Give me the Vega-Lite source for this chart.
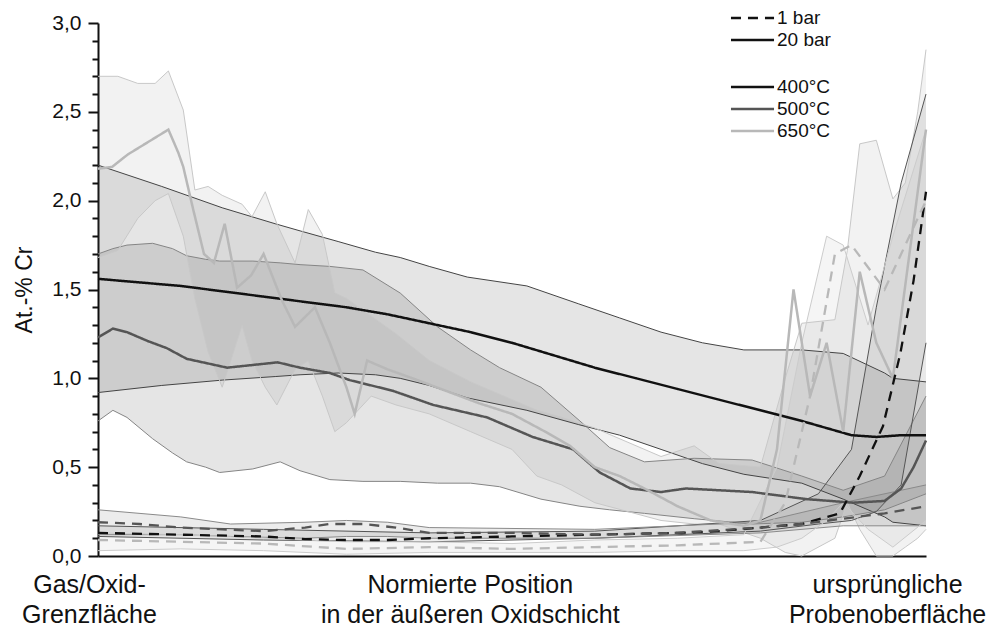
{
"$schema":"https://vega.github.io/schema/vega-lite/v6.json",
"width":828,"height":533,
"autosize":{"type":"none"},
"padding":{"left":98,"top":23,"right":69,"bottom":74},
"background":"white",
"config":{"view":{"stroke":null},"font":"Liberation Sans",
"legend":{"labelFont":"Liberation Sans","labelFontSize":19,"labelColor":"#111","symbolType":"M-2.05,0H2.05","symbolSize":441,"symbolStrokeWidth":2.5,"symbolFillColor":"transparent","labelOffset":12.5,"rowPadding":0,"title":null}},
"datasets":{
"means":[
{"s":"400°C 20 bar","T":"400°C","p":"20 bar","x":0,"y":1.56},{"s":"400°C 20 bar","T":"400°C","p":"20 bar","x":0.05,"y":1.54},{"s":"400°C 20 bar","T":"400°C","p":"20 bar","x":0.1,"y":1.52},{"s":"400°C 20 bar","T":"400°C","p":"20 bar","x":0.15,"y":1.49},{"s":"400°C 20 bar","T":"400°C","p":"20 bar","x":0.2,"y":1.46},{"s":"400°C 20 bar","T":"400°C","p":"20 bar","x":0.25,"y":1.43},{"s":"400°C 20 bar","T":"400°C","p":"20 bar","x":0.3,"y":1.4},{"s":"400°C 20 bar","T":"400°C","p":"20 bar","x":0.35,"y":1.36},{"s":"400°C 20 bar","T":"400°C","p":"20 bar","x":0.4,"y":1.31},{"s":"400°C 20 bar","T":"400°C","p":"20 bar","x":0.45,"y":1.26},{"s":"400°C 20 bar","T":"400°C","p":"20 bar","x":0.5,"y":1.2},{"s":"400°C 20 bar","T":"400°C","p":"20 bar","x":0.55,"y":1.13},{"s":"400°C 20 bar","T":"400°C","p":"20 bar","x":0.6,"y":1.06},{"s":"400°C 20 bar","T":"400°C","p":"20 bar","x":0.65,"y":1.0},{"s":"400°C 20 bar","T":"400°C","p":"20 bar","x":0.7,"y":0.94},{"s":"400°C 20 bar","T":"400°C","p":"20 bar","x":0.75,"y":0.88},{"s":"400°C 20 bar","T":"400°C","p":"20 bar","x":0.8,"y":0.82},{"s":"400°C 20 bar","T":"400°C","p":"20 bar","x":0.85,"y":0.76},{"s":"400°C 20 bar","T":"400°C","p":"20 bar","x":0.88,"y":0.72},{"s":"400°C 20 bar","T":"400°C","p":"20 bar","x":0.91,"y":0.68},{"s":"400°C 20 bar","T":"400°C","p":"20 bar","x":0.94,"y":0.67},{"s":"400°C 20 bar","T":"400°C","p":"20 bar","x":0.97,"y":0.68},{"s":"400°C 20 bar","T":"400°C","p":"20 bar","x":1.0,"y":0.68},
{"s":"500°C 20 bar","T":"500°C","p":"20 bar","x":0,"y":1.23},{"s":"500°C 20 bar","T":"500°C","p":"20 bar","x":0.018,"y":1.28},{"s":"500°C 20 bar","T":"500°C","p":"20 bar","x":0.035,"y":1.26},{"s":"500°C 20 bar","T":"500°C","p":"20 bar","x":0.06,"y":1.21},{"s":"500°C 20 bar","T":"500°C","p":"20 bar","x":0.083,"y":1.17},{"s":"500°C 20 bar","T":"500°C","p":"20 bar","x":0.107,"y":1.11},{"s":"500°C 20 bar","T":"500°C","p":"20 bar","x":0.156,"y":1.06},{"s":"500°C 20 bar","T":"500°C","p":"20 bar","x":0.217,"y":1.09},{"s":"500°C 20 bar","T":"500°C","p":"20 bar","x":0.244,"y":1.06},{"s":"500°C 20 bar","T":"500°C","p":"20 bar","x":0.28,"y":1.03},{"s":"500°C 20 bar","T":"500°C","p":"20 bar","x":0.304,"y":0.99},{"s":"500°C 20 bar","T":"500°C","p":"20 bar","x":0.356,"y":0.93},{"s":"500°C 20 bar","T":"500°C","p":"20 bar","x":0.405,"y":0.85},{"s":"500°C 20 bar","T":"500°C","p":"20 bar","x":0.47,"y":0.78},{"s":"500°C 20 bar","T":"500°C","p":"20 bar","x":0.525,"y":0.67},{"s":"500°C 20 bar","T":"500°C","p":"20 bar","x":0.574,"y":0.6},{"s":"500°C 20 bar","T":"500°C","p":"20 bar","x":0.606,"y":0.47},{"s":"500°C 20 bar","T":"500°C","p":"20 bar","x":0.643,"y":0.38},{"s":"500°C 20 bar","T":"500°C","p":"20 bar","x":0.68,"y":0.36},{"s":"500°C 20 bar","T":"500°C","p":"20 bar","x":0.71,"y":0.38},{"s":"500°C 20 bar","T":"500°C","p":"20 bar","x":0.79,"y":0.36},{"s":"500°C 20 bar","T":"500°C","p":"20 bar","x":0.856,"y":0.32},{"s":"500°C 20 bar","T":"500°C","p":"20 bar","x":0.912,"y":0.3},{"s":"500°C 20 bar","T":"500°C","p":"20 bar","x":0.95,"y":0.31},{"s":"500°C 20 bar","T":"500°C","p":"20 bar","x":0.97,"y":0.38},{"s":"500°C 20 bar","T":"500°C","p":"20 bar","x":0.985,"y":0.5},{"s":"500°C 20 bar","T":"500°C","p":"20 bar","x":1.0,"y":0.65},
{"s":"650°C 20 bar","T":"650°C","p":"20 bar","x":0,"y":2.18},{"s":"650°C 20 bar","T":"650°C","p":"20 bar","x":0.017,"y":2.19},{"s":"650°C 20 bar","T":"650°C","p":"20 bar","x":0.036,"y":2.26},{"s":"650°C 20 bar","T":"650°C","p":"20 bar","x":0.057,"y":2.32},{"s":"650°C 20 bar","T":"650°C","p":"20 bar","x":0.085,"y":2.4},{"s":"650°C 20 bar","T":"650°C","p":"20 bar","x":0.097,"y":2.27},{"s":"650°C 20 bar","T":"650°C","p":"20 bar","x":0.103,"y":2.19},{"s":"650°C 20 bar","T":"650°C","p":"20 bar","x":0.115,"y":1.95},{"s":"650°C 20 bar","T":"650°C","p":"20 bar","x":0.128,"y":1.7},{"s":"650°C 20 bar","T":"650°C","p":"20 bar","x":0.14,"y":1.65},{"s":"650°C 20 bar","T":"650°C","p":"20 bar","x":0.153,"y":1.87},{"s":"650°C 20 bar","T":"650°C","p":"20 bar","x":0.168,"y":1.51},{"s":"650°C 20 bar","T":"650°C","p":"20 bar","x":0.185,"y":1.58},{"s":"650°C 20 bar","T":"650°C","p":"20 bar","x":0.2,"y":1.7},{"s":"650°C 20 bar","T":"650°C","p":"20 bar","x":0.222,"y":1.44},{"s":"650°C 20 bar","T":"650°C","p":"20 bar","x":0.238,"y":1.29},{"s":"650°C 20 bar","T":"650°C","p":"20 bar","x":0.262,"y":1.4},{"s":"650°C 20 bar","T":"650°C","p":"20 bar","x":0.28,"y":1.2},{"s":"650°C 20 bar","T":"650°C","p":"20 bar","x":0.3,"y":0.95},{"s":"650°C 20 bar","T":"650°C","p":"20 bar","x":0.31,"y":0.8},{"s":"650°C 20 bar","T":"650°C","p":"20 bar","x":0.325,"y":1.1},{"s":"650°C 20 bar","T":"650°C","p":"20 bar","x":0.35,"y":1.05},{"s":"650°C 20 bar","T":"650°C","p":"20 bar","x":0.38,"y":1.0},{"s":"650°C 20 bar","T":"650°C","p":"20 bar","x":0.42,"y":0.93},{"s":"650°C 20 bar","T":"650°C","p":"20 bar","x":0.46,"y":0.86},{"s":"650°C 20 bar","T":"650°C","p":"20 bar","x":0.5,"y":0.8},{"s":"650°C 20 bar","T":"650°C","p":"20 bar","x":0.54,"y":0.7},{"s":"650°C 20 bar","T":"650°C","p":"20 bar","x":0.57,"y":0.62},{"s":"650°C 20 bar","T":"650°C","p":"20 bar","x":0.6,"y":0.5},{"s":"650°C 20 bar","T":"650°C","p":"20 bar","x":0.63,"y":0.45},{"s":"650°C 20 bar","T":"650°C","p":"20 bar","x":0.66,"y":0.38},{"s":"650°C 20 bar","T":"650°C","p":"20 bar","x":0.7,"y":0.28},{"s":"650°C 20 bar","T":"650°C","p":"20 bar","x":0.74,"y":0.2},{"s":"650°C 20 bar","T":"650°C","p":"20 bar","x":0.78,"y":0.17},{"s":"650°C 20 bar","T":"650°C","p":"20 bar","x":0.8,"y":0.2},{"s":"650°C 20 bar","T":"650°C","p":"20 bar","x":0.82,"y":0.6},{"s":"650°C 20 bar","T":"650°C","p":"20 bar","x":0.84,"y":1.5},{"s":"650°C 20 bar","T":"650°C","p":"20 bar","x":0.86,"y":0.9},{"s":"650°C 20 bar","T":"650°C","p":"20 bar","x":0.88,"y":1.2},{"s":"650°C 20 bar","T":"650°C","p":"20 bar","x":0.9,"y":0.7},{"s":"650°C 20 bar","T":"650°C","p":"20 bar","x":0.92,"y":1.6},{"s":"650°C 20 bar","T":"650°C","p":"20 bar","x":0.94,"y":1.2},{"s":"650°C 20 bar","T":"650°C","p":"20 bar","x":0.96,"y":1.0},{"s":"650°C 20 bar","T":"650°C","p":"20 bar","x":0.98,"y":1.7},{"s":"650°C 20 bar","T":"650°C","p":"20 bar","x":1.0,"y":2.4},
{"s":"400°C 1 bar","T":"400°C","p":"1 bar","x":0,"y":0.13},{"s":"400°C 1 bar","T":"400°C","p":"1 bar","x":0.1,"y":0.12},{"s":"400°C 1 bar","T":"400°C","p":"1 bar","x":0.2,"y":0.11},{"s":"400°C 1 bar","T":"400°C","p":"1 bar","x":0.25,"y":0.095},{"s":"400°C 1 bar","T":"400°C","p":"1 bar","x":0.3,"y":0.09},{"s":"400°C 1 bar","T":"400°C","p":"1 bar","x":0.35,"y":0.09},{"s":"400°C 1 bar","T":"400°C","p":"1 bar","x":0.4,"y":0.1},{"s":"400°C 1 bar","T":"400°C","p":"1 bar","x":0.5,"y":0.11},{"s":"400°C 1 bar","T":"400°C","p":"1 bar","x":0.6,"y":0.12},{"s":"400°C 1 bar","T":"400°C","p":"1 bar","x":0.7,"y":0.13},{"s":"400°C 1 bar","T":"400°C","p":"1 bar","x":0.75,"y":0.14},{"s":"400°C 1 bar","T":"400°C","p":"1 bar","x":0.8,"y":0.16},{"s":"400°C 1 bar","T":"400°C","p":"1 bar","x":0.85,"y":0.18},{"s":"400°C 1 bar","T":"400°C","p":"1 bar","x":0.896,"y":0.24},{"s":"400°C 1 bar","T":"400°C","p":"1 bar","x":0.92,"y":0.45},{"s":"400°C 1 bar","T":"400°C","p":"1 bar","x":0.948,"y":0.73},{"s":"400°C 1 bar","T":"400°C","p":"1 bar","x":0.969,"y":1.14},{"s":"400°C 1 bar","T":"400°C","p":"1 bar","x":0.985,"y":1.55},{"s":"400°C 1 bar","T":"400°C","p":"1 bar","x":1.0,"y":2.05},
{"s":"500°C 1 bar","T":"500°C","p":"1 bar","x":0,"y":0.19},{"s":"500°C 1 bar","T":"500°C","p":"1 bar","x":0.05,"y":0.18},{"s":"500°C 1 bar","T":"500°C","p":"1 bar","x":0.1,"y":0.16},{"s":"500°C 1 bar","T":"500°C","p":"1 bar","x":0.15,"y":0.15},{"s":"500°C 1 bar","T":"500°C","p":"1 bar","x":0.2,"y":0.14},{"s":"500°C 1 bar","T":"500°C","p":"1 bar","x":0.25,"y":0.16},{"s":"500°C 1 bar","T":"500°C","p":"1 bar","x":0.28,"y":0.18},{"s":"500°C 1 bar","T":"500°C","p":"1 bar","x":0.32,"y":0.18},{"s":"500°C 1 bar","T":"500°C","p":"1 bar","x":0.36,"y":0.16},{"s":"500°C 1 bar","T":"500°C","p":"1 bar","x":0.4,"y":0.13},{"s":"500°C 1 bar","T":"500°C","p":"1 bar","x":0.5,"y":0.13},{"s":"500°C 1 bar","T":"500°C","p":"1 bar","x":0.6,"y":0.12},{"s":"500°C 1 bar","T":"500°C","p":"1 bar","x":0.7,"y":0.13},{"s":"500°C 1 bar","T":"500°C","p":"1 bar","x":0.8,"y":0.16},{"s":"500°C 1 bar","T":"500°C","p":"1 bar","x":0.85,"y":0.18},{"s":"500°C 1 bar","T":"500°C","p":"1 bar","x":0.9,"y":0.21},{"s":"500°C 1 bar","T":"500°C","p":"1 bar","x":0.95,"y":0.24},{"s":"500°C 1 bar","T":"500°C","p":"1 bar","x":1.0,"y":0.28},
{"s":"650°C 1 bar","T":"650°C","p":"1 bar","x":0,"y":0.09},{"s":"650°C 1 bar","T":"650°C","p":"1 bar","x":0.1,"y":0.08},{"s":"650°C 1 bar","T":"650°C","p":"1 bar","x":0.2,"y":0.07},{"s":"650°C 1 bar","T":"650°C","p":"1 bar","x":0.3,"y":0.04},{"s":"650°C 1 bar","T":"650°C","p":"1 bar","x":0.4,"y":0.05},{"s":"650°C 1 bar","T":"650°C","p":"1 bar","x":0.5,"y":0.04},{"s":"650°C 1 bar","T":"650°C","p":"1 bar","x":0.6,"y":0.05},{"s":"650°C 1 bar","T":"650°C","p":"1 bar","x":0.7,"y":0.06},{"s":"650°C 1 bar","T":"650°C","p":"1 bar","x":0.8,"y":0.08},{"s":"650°C 1 bar","T":"650°C","p":"1 bar","x":0.83,"y":0.3},{"s":"650°C 1 bar","T":"650°C","p":"1 bar","x":0.86,"y":0.9},{"s":"650°C 1 bar","T":"650°C","p":"1 bar","x":0.89,"y":1.7},{"s":"650°C 1 bar","T":"650°C","p":"1 bar","x":0.91,"y":1.75},{"s":"650°C 1 bar","T":"650°C","p":"1 bar","x":0.95,"y":1.5},{"s":"650°C 1 bar","T":"650°C","p":"1 bar","x":1.0,"y":2.0}
],
"bands":[
{"s":"400°C 20 bar","x":0,"lo":0.92,"y":2.2},{"s":"400°C 20 bar","x":0.077,"lo":0.96,"y":2.08},{"s":"400°C 20 bar","x":0.15,"lo":0.99,"y":1.96},{"s":"400°C 20 bar","x":0.214,"lo":1.01,"y":1.87},{"s":"400°C 20 bar","x":0.244,"lo":1.02,"y":1.83},{"s":"400°C 20 bar","x":0.29,"lo":1.03,"y":1.77},{"s":"400°C 20 bar","x":0.335,"lo":1.02,"y":1.71},{"s":"400°C 20 bar","x":0.365,"lo":1.0,"y":1.68},{"s":"400°C 20 bar","x":0.4,"lo":0.96,"y":1.63},{"s":"400°C 20 bar","x":0.446,"lo":0.89,"y":1.57},{"s":"400°C 20 bar","x":0.518,"lo":0.82,"y":1.52},{"s":"400°C 20 bar","x":0.58,"lo":0.74,"y":1.42},{"s":"400°C 20 bar","x":0.63,"lo":0.68,"y":1.34},{"s":"400°C 20 bar","x":0.68,"lo":0.6,"y":1.26},{"s":"400°C 20 bar","x":0.73,"lo":0.52,"y":1.2},{"s":"400°C 20 bar","x":0.78,"lo":0.46,"y":1.16},{"s":"400°C 20 bar","x":0.85,"lo":0.41,"y":1.16},{"s":"400°C 20 bar","x":0.9,"lo":0.32,"y":1.14},{"s":"400°C 20 bar","x":0.95,"lo":0.22,"y":1.03},{"s":"400°C 20 bar","x":0.96,"lo":0.19,"y":1.0},{"s":"400°C 20 bar","x":1.0,"lo":0.17,"y":0.98},
{"s":"500°C 20 bar","x":0,"lo":0.76,"y":1.7},{"s":"500°C 20 bar","x":0.018,"lo":0.82,"y":1.73},{"s":"500°C 20 bar","x":0.035,"lo":0.78,"y":1.75},{"s":"500°C 20 bar","x":0.066,"lo":0.66,"y":1.76},{"s":"500°C 20 bar","x":0.09,"lo":0.58,"y":1.73},{"s":"500°C 20 bar","x":0.107,"lo":0.53,"y":1.69},{"s":"500°C 20 bar","x":0.13,"lo":0.5,"y":1.67},{"s":"500°C 20 bar","x":0.147,"lo":0.47,"y":1.66},{"s":"500°C 20 bar","x":0.187,"lo":0.49,"y":1.66},{"s":"500°C 20 bar","x":0.22,"lo":0.53,"y":1.65},{"s":"500°C 20 bar","x":0.244,"lo":0.48,"y":1.64},{"s":"500°C 20 bar","x":0.28,"lo":0.43,"y":1.63},{"s":"500°C 20 bar","x":0.32,"lo":0.42,"y":1.61},{"s":"500°C 20 bar","x":0.365,"lo":0.42,"y":1.48},{"s":"500°C 20 bar","x":0.41,"lo":0.41,"y":1.29},{"s":"500°C 20 bar","x":0.45,"lo":0.41,"y":1.16},{"s":"500°C 20 bar","x":0.485,"lo":0.39,"y":1.06},{"s":"500°C 20 bar","x":0.535,"lo":0.32,"y":0.95},{"s":"500°C 20 bar","x":0.582,"lo":0.28,"y":0.76},{"s":"500°C 20 bar","x":0.618,"lo":0.26,"y":0.61},{"s":"500°C 20 bar","x":0.66,"lo":0.24,"y":0.53},{"s":"500°C 20 bar","x":0.72,"lo":0.21,"y":0.55},{"s":"500°C 20 bar","x":0.79,"lo":0.18,"y":0.54},{"s":"500°C 20 bar","x":0.85,"lo":0.19,"y":0.45},{"s":"500°C 20 bar","x":0.9,"lo":0.22,"y":0.37},{"s":"500°C 20 bar","x":0.95,"lo":0.26,"y":0.45},{"s":"500°C 20 bar","x":1.0,"lo":0.35,"y":0.9},
{"s":"650°C 20 bar","x":0,"lo":1.68,"y":2.7},{"s":"650°C 20 bar","x":0.024,"lo":1.72,"y":2.7},{"s":"650°C 20 bar","x":0.048,"lo":1.9,"y":2.66},{"s":"650°C 20 bar","x":0.069,"lo":2.0,"y":2.66},{"s":"650°C 20 bar","x":0.085,"lo":2.04,"y":2.73},{"s":"650°C 20 bar","x":0.103,"lo":1.8,"y":2.51},{"s":"650°C 20 bar","x":0.117,"lo":1.45,"y":2.06},{"s":"650°C 20 bar","x":0.133,"lo":1.15,"y":2.08},{"s":"650°C 20 bar","x":0.15,"lo":0.95,"y":2.03},{"s":"650°C 20 bar","x":0.174,"lo":1.3,"y":1.98},{"s":"650°C 20 bar","x":0.186,"lo":1.1,"y":1.91},{"s":"650°C 20 bar","x":0.202,"lo":0.95,"y":2.05},{"s":"650°C 20 bar","x":0.216,"lo":0.85,"y":1.87},{"s":"650°C 20 bar","x":0.238,"lo":1.05,"y":1.65},{"s":"650°C 20 bar","x":0.254,"lo":1.1,"y":1.95},{"s":"650°C 20 bar","x":0.271,"lo":0.9,"y":1.81},{"s":"650°C 20 bar","x":0.286,"lo":0.7,"y":1.48},{"s":"650°C 20 bar","x":0.3,"lo":0.75,"y":1.45},{"s":"650°C 20 bar","x":0.33,"lo":0.9,"y":1.35},{"s":"650°C 20 bar","x":0.36,"lo":0.85,"y":1.25},{"s":"650°C 20 bar","x":0.4,"lo":0.8,"y":1.1},{"s":"650°C 20 bar","x":0.45,"lo":0.7,"y":0.98},{"s":"650°C 20 bar","x":0.5,"lo":0.6,"y":0.88},{"s":"650°C 20 bar","x":0.53,"lo":0.45,"y":0.82},{"s":"650°C 20 bar","x":0.56,"lo":0.4,"y":0.78},{"s":"650°C 20 bar","x":0.6,"lo":0.3,"y":0.72},{"s":"650°C 20 bar","x":0.64,"lo":0.25,"y":0.64},{"s":"650°C 20 bar","x":0.68,"lo":0.2,"y":0.56},{"s":"650°C 20 bar","x":0.72,"lo":0.18,"y":0.62},{"s":"650°C 20 bar","x":0.75,"lo":0.18,"y":0.52},{"s":"650°C 20 bar","x":0.8,"lo":0.1,"y":0.5},{"s":"650°C 20 bar","x":0.83,"lo":0.02,"y":1.0},{"s":"650°C 20 bar","x":0.85,"lo":0.0,"y":1.31},{"s":"650°C 20 bar","x":0.89,"lo":0.1,"y":1.33},{"s":"650°C 20 bar","x":0.905,"lo":0.3,"y":1.72},{"s":"650°C 20 bar","x":0.92,"lo":0.15,"y":2.32},{"s":"650°C 20 bar","x":0.94,"lo":0.0,"y":2.34},{"s":"650°C 20 bar","x":0.96,"lo":0.0,"y":2.01},{"s":"650°C 20 bar","x":0.975,"lo":0.05,"y":2.1},{"s":"650°C 20 bar","x":0.99,"lo":0.1,"y":2.5},{"s":"650°C 20 bar","x":1.0,"lo":0.15,"y":2.85},
{"s":"400°C 1 bar","x":0,"lo":0.11,"y":0.17},{"s":"400°C 1 bar","x":0.2,"lo":0.09,"y":0.15},{"s":"400°C 1 bar","x":0.4,"lo":0.08,"y":0.13},{"s":"400°C 1 bar","x":0.6,"lo":0.1,"y":0.14},{"s":"400°C 1 bar","x":0.8,"lo":0.14,"y":0.2},{"s":"400°C 1 bar","x":0.87,"lo":0.18,"y":0.35},{"s":"400°C 1 bar","x":0.91,"lo":0.2,"y":0.6},{"s":"400°C 1 bar","x":0.94,"lo":0.25,"y":1.4},{"s":"400°C 1 bar","x":0.97,"lo":0.4,"y":2.1},{"s":"400°C 1 bar","x":1.0,"lo":1.2,"y":2.6},
{"s":"500°C 1 bar","x":0,"lo":0.12,"y":0.26},{"s":"500°C 1 bar","x":0.1,"lo":0.12,"y":0.22},{"s":"500°C 1 bar","x":0.16,"lo":0.11,"y":0.18},{"s":"500°C 1 bar","x":0.25,"lo":0.1,"y":0.19},{"s":"500°C 1 bar","x":0.3,"lo":0.11,"y":0.2},{"s":"500°C 1 bar","x":0.35,"lo":0.11,"y":0.19},{"s":"500°C 1 bar","x":0.4,"lo":0.1,"y":0.16},{"s":"500°C 1 bar","x":0.6,"lo":0.1,"y":0.15},{"s":"500°C 1 bar","x":0.8,"lo":0.13,"y":0.19},{"s":"500°C 1 bar","x":0.9,"lo":0.17,"y":0.3},{"s":"500°C 1 bar","x":1.0,"lo":0.17,"y":0.4},
{"s":"650°C 1 bar","x":0,"lo":0.03,"y":0.13},{"s":"650°C 1 bar","x":0.1,"lo":0.04,"y":0.12},{"s":"650°C 1 bar","x":0.2,"lo":0.03,"y":0.1},{"s":"650°C 1 bar","x":0.3,"lo":0.01,"y":0.08},{"s":"650°C 1 bar","x":0.4,"lo":0.02,"y":0.08},{"s":"650°C 1 bar","x":0.5,"lo":0.02,"y":0.07},{"s":"650°C 1 bar","x":0.6,"lo":0.02,"y":0.09},{"s":"650°C 1 bar","x":0.7,"lo":0.03,"y":0.1},{"s":"650°C 1 bar","x":0.78,"lo":0.03,"y":0.12},{"s":"650°C 1 bar","x":0.82,"lo":0.05,"y":0.5},{"s":"650°C 1 bar","x":0.85,"lo":0.1,"y":1.2},{"s":"650°C 1 bar","x":0.88,"lo":0.2,"y":1.8},{"s":"650°C 1 bar","x":0.9,"lo":0.3,"y":1.75},{"s":"650°C 1 bar","x":0.93,"lo":0.15,"y":1.3},{"s":"650°C 1 bar","x":0.96,"lo":0.05,"y":1.8},{"s":"650°C 1 bar","x":1.0,"lo":0.2,"y":2.4}
]},
"encoding":{
"x":{"field":"x","type":"quantitative","scale":{"domain":[0,1],"nice":false,"zero":false},
"axis":{"values":[0,0.449,0.953],"ticks":false,"grid":false,"title":null,"domainColor":"#111","domainWidth":2,"labelExpr":"datum.value < 0.2 ? ['Gas/Oxid-','Grenzfläche'] : (datum.value < 0.7 ? ['Normierte Position','in der äußeren Oxidschicht'] : ['ursprüngliche','Probenoberfläche'])","labelOffset":{"condition":{"test":"datum.value < 0.2","value":-9},"value":0},"labelFont":"Liberation Sans","labelFontSize":25,"labelColor":"#111","labelLineHeight":30,"labelPadding":16,"labelLimit":0,"labelFlush":false,"labelOverlap":false,"labelBound":false,"labelAngle":0,"labelAlign":"center","labelBaseline":"top"}},
"y":{"field":"y","type":"quantitative","scale":{"domain":[0,3],"nice":false,"zero":false},
"axis":{"values":[0,0.1,0.2,0.3,0.4,0.5,0.6,0.7,0.8,0.9,1.0,1.1,1.2,1.3,1.4,1.5,1.6,1.7,1.8,1.9,2.0,2.1,2.2,2.3,2.4,2.5,2.6,2.7,2.8,2.9,3.0],"grid":false,
"labelExpr":"abs(round(datum.value*2)-datum.value*2)<0.01 ? replace(format(datum.value,'.1f'),'.',',') : ''",
"tickSize":{"condition":{"test":"abs(round(datum.value*2)-datum.value*2)<0.01","value":10},"value":6},
"labelOverlap":false,"tickWidth":2,"tickColor":"#111","domainColor":"#111","domainWidth":2,"labelFont":"Liberation Sans","labelFontSize":21,"labelColor":"#111","labelPadding":7,
"title":"At.-% Cr","titleFont":"Liberation Sans","titleFontSize":23,"titleFontWeight":"normal","titleColor":"#111","titlePadding":15}}},
"layer":[
{"data":{"name":"bands"},"mark":{"type":"area","fillOpacity":0.1},
"encoding":{
"y2":{"field":"lo"},
"detail":{"field":"s"},
"fill":{"field":"s","type":"nominal","scale":{"domain":["400°C 20 bar","500°C 20 bar","650°C 20 bar","400°C 1 bar","500°C 1 bar","650°C 1 bar"],"range":["#000000","#000000","#808080","#404040","#404040","#a0a0a0"]},"legend":null}}},
{"data":{"name":"bands"},"transform":[{"fold":["y","lo"],"as":["e","y"]}],"mark":{"type":"line","strokeWidth":1},
"encoding":{"detail":[{"field":"s"},{"field":"e"}],
"color":{"field":"s","type":"nominal","scale":{"domain":["400°C 20 bar","500°C 20 bar","650°C 20 bar","400°C 1 bar","500°C 1 bar","650°C 1 bar"],"range":["#444444","#858585","#c8c8c8","#555555","#8a8a8a","#cccccc"]},"legend":null}}},
{"data":{"name":"means"},"mark":{"type":"line"},
"encoding":{"detail":{"field":"s"},
"stroke":{"field":"T","type":"nominal","scale":{"domain":["400°C","500°C","650°C"],"range":["#111111","#555555","#b8b8b8"]},"legend":{"orient":"none","legendX":642.5,"legendY":52}},
"strokeWidth":{"field":"p","type":"nominal","scale":{"domain":["1 bar","20 bar"],"range":[2.3,2.5]},"legend":null},
"strokeDash":{"field":"p","type":"nominal","scale":{"domain":["1 bar","20 bar"],"range":[[10,7],[1,0]]},"legend":{"orient":"none","legendX":642.5,"legendY":-17,"symbolStrokeColor":"#111"}}}}
]
}
